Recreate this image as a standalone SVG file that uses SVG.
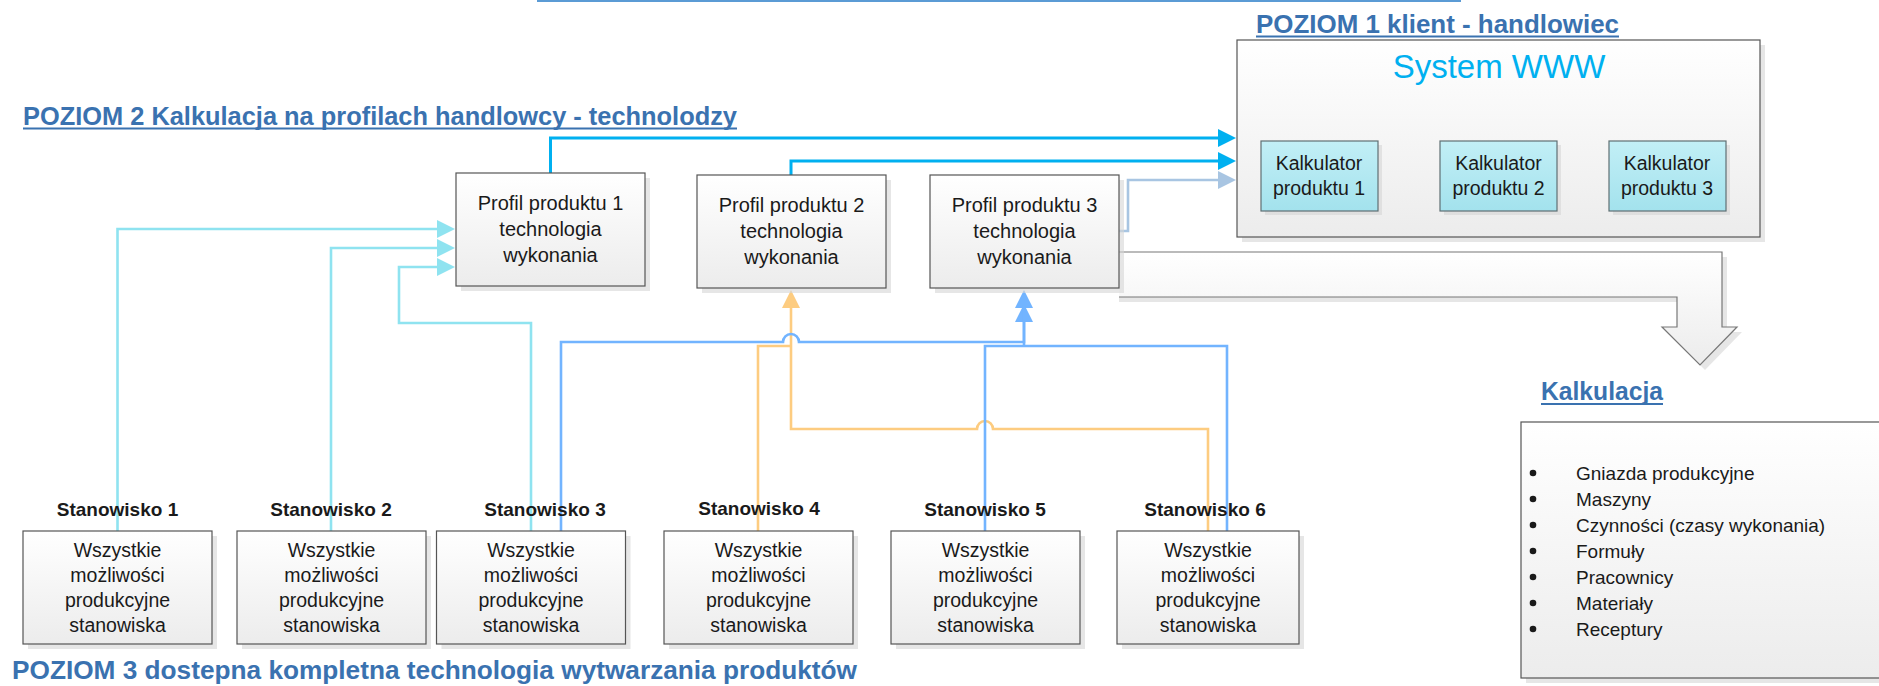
<svg xmlns="http://www.w3.org/2000/svg" width="1879" height="686" viewBox="0 0 1879 686">
<style>
text{font-family:"Liberation Sans",Arial,sans-serif;fill:#1a1a1a}
.t{font-size:19.5px;text-anchor:middle}
.lbl{font-size:19px;font-weight:bold;text-anchor:middle}
.title{font-size:26px;font-weight:bold;fill:#3a72b0}
.ul{stroke:#3a72b0;stroke-width:1.8}
.box{fill:url(#g);stroke:#555;stroke-width:1.2}
.kal{fill:url(#gk);stroke:#5f6f73;stroke-width:1.2}
.sh{fill:#d6d6d6;opacity:0.6}
.c{fill:none;stroke-width:2.6}
.cy{stroke:#8fe3f0}
.bb{stroke:#00b0f0;stroke-width:3}
.st{stroke:#a8c5e2}
.bl{stroke:#72b4ff}
.or{stroke:#fdcc80}
.li{font-size:19px}
</style>
<defs>
<linearGradient id="g" x1="0" y1="0" x2="0" y2="1"><stop offset="0" stop-color="#ffffff"/><stop offset="1" stop-color="#ececec"/></linearGradient>
<linearGradient id="gk" x1="0" y1="0" x2="0" y2="1"><stop offset="0" stop-color="#c2eff6"/><stop offset="1" stop-color="#a3e2ed"/></linearGradient>
<marker id="mcy" markerUnits="userSpaceOnUse" markerWidth="18" markerHeight="18" viewBox="0 0 18 18" refX="1" refY="9" orient="auto"><path d="M0,0 L18,9 L0,18 z" fill="#8fe3f0"/></marker>
<marker id="mbb" markerUnits="userSpaceOnUse" markerWidth="18" markerHeight="18" viewBox="0 0 18 18" refX="1" refY="9" orient="auto"><path d="M0,0 L18,9 L0,18 z" fill="#00b0f0"/></marker>
<marker id="mst" markerUnits="userSpaceOnUse" markerWidth="18" markerHeight="18" viewBox="0 0 18 18" refX="1" refY="9" orient="auto"><path d="M0,0 L18,9 L0,18 z" fill="#a8c5e2"/></marker>
<marker id="mbl" markerUnits="userSpaceOnUse" markerWidth="18" markerHeight="18" viewBox="0 0 18 18" refX="1" refY="9" orient="auto"><path d="M0,0 L18,9 L0,18 z" fill="#72b4ff"/></marker>
<marker id="mor" markerUnits="userSpaceOnUse" markerWidth="18" markerHeight="18" viewBox="0 0 18 18" refX="1" refY="9" orient="auto"><path d="M0,0 L18,9 L0,18 z" fill="#fdcc80"/></marker>
</defs>
<rect width="1879" height="686" fill="#ffffff"/>

<line x1="537" y1="1" x2="1461" y2="1" stroke="#5b9bd5" stroke-width="2.2"/>

<g id="titles">
<text class="title" x="1256" y="33" textLength="363" lengthAdjust="spacingAndGlyphs" style="font-size:25px">POZIOM 1 klient - handlowiec</text>
<line class="ul" x1="1256" y1="36.5" x2="1619" y2="36.5"/>
<text class="title" x="23" y="125" textLength="714" lengthAdjust="spacingAndGlyphs">POZIOM 2 Kalkulacja na profilach handlowcy - technolodzy</text>
<line class="ul" x1="23" y1="128.5" x2="737" y2="128.5"/>
<text class="title" x="1541" y="400" textLength="122" lengthAdjust="spacingAndGlyphs" style="font-size:25px">Kalkulacja</text>
<line class="ul" x1="1541" y1="404" x2="1663" y2="404"/>
<text class="title" x="12" y="679" textLength="845" lengthAdjust="spacingAndGlyphs">POZIOM 3  dostepna kompletna technologia wytwarzania produktów</text>
</g>

<g id="system-www">
<rect class="sh" x="1242" y="45" width="523" height="197"/>
<rect class="box" x="1237" y="40" width="523" height="197"/>
<text x="1499" y="78" text-anchor="middle" style="font-size:33px;fill:#00b0f0">System WWW</text>
</g>
<g id="kalkulator-1">
<rect class="sh" x="1265" y="145" width="117" height="70"/>
<rect class="kal" x="1261" y="141" width="117" height="70"/>
<text class="t" x="1319" y="170">Kalkulator</text><text class="t" x="1319" y="195">produktu 1</text>
</g>
<g id="kalkulator-2">
<rect class="sh" x="1444" y="145" width="117" height="70"/>
<rect class="kal" x="1440" y="141" width="117" height="70"/>
<text class="t" x="1498.5" y="170">Kalkulator</text><text class="t" x="1498.5" y="195">produktu 2</text>
</g>
<g id="kalkulator-3">
<rect class="sh" x="1613" y="145" width="117" height="70"/>
<rect class="kal" x="1609" y="141" width="117" height="70"/>
<text class="t" x="1667" y="170">Kalkulator</text><text class="t" x="1667" y="195">produktu 3</text>
</g>

<g id="arrow-kalkulacja">
<path d="M1119,257 H1727 V332 H1742 L1705,370 L1667,332 H1682 V302 H1119" fill="#d6d6d6" opacity="0.6"/>
<path d="M1119,252 H1722 V327 H1737 L1700,365 L1662,327 H1677 V297 H1119" fill="url(#g)" stroke="#777" stroke-width="1.2"/>
</g>

<g id="kalkulacja">
<rect class="sh" x="1526" y="427" width="360" height="256"/>
<rect class="box" x="1521" y="422" width="365" height="256"/>
<g fill="#1a1a1a">
<circle cx="1533" cy="473" r="3.3"/><circle cx="1533" cy="499" r="3.3"/><circle cx="1533" cy="525" r="3.3"/><circle cx="1533" cy="551" r="3.3"/><circle cx="1533" cy="577" r="3.3"/><circle cx="1533" cy="603" r="3.3"/><circle cx="1533" cy="629" r="3.3"/>
</g>
<text class="li" x="1576" y="480">Gniazda produkcyjne</text>
<text class="li" x="1576" y="506">Maszyny</text>
<text class="li" x="1576" y="532">Czynności (czasy wykonania)</text>
<text class="li" x="1576" y="558">Formuły</text>
<text class="li" x="1576" y="584">Pracownicy</text>
<text class="li" x="1576" y="610">Materiały</text>
<text class="li" x="1576" y="636">Receptury</text>
</g>

<g id="connectors">
<path class="c cy" d="M117.5,531 V229 H438" marker-end="url(#mcy)"/>
<path class="c cy" d="M331,531 V248 H438" marker-end="url(#mcy)"/>
<path class="c cy" d="M531,531 V323 H399 V267 H438" marker-end="url(#mcy)"/>
<path class="c bb" d="M550.5,173 V138 H1219" marker-end="url(#mbb)"/>
<path class="c bb" d="M791,175 V161 H1219" marker-end="url(#mbb)"/>
<path class="c st" d="M1119,231 H1128 V180 H1219" marker-end="url(#mst)"/>
<path class="c or" d="M758,531 V346 H791"/>
<path class="c or" d="M1208,531 V429 H993 A8,8 0 0 0 977,429 H791 V307" marker-end="url(#mor)"/>
<path class="c bl" d="M561,531 V342 H783 A8,8 0 0 1 799,342 H1024 V321" marker-end="url(#mbl)"/>
<path class="c bl" d="M985,531 V346 H1227 V531 M1024,346 V307" marker-end="url(#mbl)"/>
</g>

<g id="profil-1">
<rect class="sh" x="461" y="178" width="189" height="113"/>
<rect class="box" x="456" y="173" width="189" height="113"/>
<text class="t" x="550.5" y="210" style="font-size:20px">Profil produktu 1</text>
<text class="t" x="550.5" y="236" style="font-size:20px">technologia</text>
<text class="t" x="550.5" y="262" style="font-size:20px">wykonania</text>
</g>
<g id="profil-2">
<rect class="sh" x="702" y="180" width="189" height="113"/>
<rect class="box" x="697" y="175" width="189" height="113"/>
<text class="t" x="791.5" y="212" style="font-size:20px">Profil produktu 2</text>
<text class="t" x="791.5" y="238" style="font-size:20px">technologia</text>
<text class="t" x="791.5" y="264" style="font-size:20px">wykonania</text>
</g>
<g id="profil-3">
<rect class="sh" x="935" y="180" width="189" height="113"/>
<rect class="box" x="930" y="175" width="189" height="113"/>
<text class="t" x="1024.5" y="212" style="font-size:20px">Profil produktu 3</text>
<text class="t" x="1024.5" y="238" style="font-size:20px">technologia</text>
<text class="t" x="1024.5" y="264" style="font-size:20px">wykonania</text>
</g>

<g id="stanowisko-1">
<text class="lbl" x="117.5" y="516">Stanowisko 1</text>
<rect class="sh" x="28" y="536" width="189" height="113"/>
<rect class="box" x="23" y="531" width="189" height="113"/>
<text class="t" x="117.5" y="557">Wszystkie</text><text class="t" x="117.5" y="582">możliwości</text><text class="t" x="117.5" y="607">produkcyjne</text><text class="t" x="117.5" y="632">stanowiska</text>
</g>
<g id="stanowisko-2">
<text class="lbl" x="331" y="516">Stanowisko 2</text>
<rect class="sh" x="242" y="536" width="189" height="113"/>
<rect class="box" x="237" y="531" width="189" height="113"/>
<text class="t" x="331.5" y="557">Wszystkie</text><text class="t" x="331.5" y="582">możliwości</text><text class="t" x="331.5" y="607">produkcyjne</text><text class="t" x="331.5" y="632">stanowiska</text>
</g>
<g id="stanowisko-3">
<text class="lbl" x="545" y="516">Stanowisko 3</text>
<rect class="sh" x="441.5" y="536" width="189" height="113"/>
<rect class="box" x="436.5" y="531" width="189" height="113"/>
<text class="t" x="531" y="557">Wszystkie</text><text class="t" x="531" y="582">możliwości</text><text class="t" x="531" y="607">produkcyjne</text><text class="t" x="531" y="632">stanowiska</text>
</g>
<g id="stanowisko-4">
<text class="lbl" x="759" y="515">Stanowisko 4</text>
<rect class="sh" x="669" y="536" width="189" height="113"/>
<rect class="box" x="664" y="531" width="189" height="113"/>
<text class="t" x="758.5" y="557">Wszystkie</text><text class="t" x="758.5" y="582">możliwości</text><text class="t" x="758.5" y="607">produkcyjne</text><text class="t" x="758.5" y="632">stanowiska</text>
</g>
<g id="stanowisko-5">
<text class="lbl" x="985" y="516">Stanowisko 5</text>
<rect class="sh" x="896" y="536" width="189" height="113"/>
<rect class="box" x="891" y="531" width="189" height="113"/>
<text class="t" x="985.5" y="557">Wszystkie</text><text class="t" x="985.5" y="582">możliwości</text><text class="t" x="985.5" y="607">produkcyjne</text><text class="t" x="985.5" y="632">stanowiska</text>
</g>
<g id="stanowisko-6">
<text class="lbl" x="1205" y="516">Stanowisko 6</text>
<rect class="sh" x="1122" y="536" width="182" height="113"/>
<rect class="box" x="1117" y="531" width="182" height="113"/>
<text class="t" x="1208" y="557">Wszystkie</text><text class="t" x="1208" y="582">możliwości</text><text class="t" x="1208" y="607">produkcyjne</text><text class="t" x="1208" y="632">stanowiska</text>
</g>
</svg>
